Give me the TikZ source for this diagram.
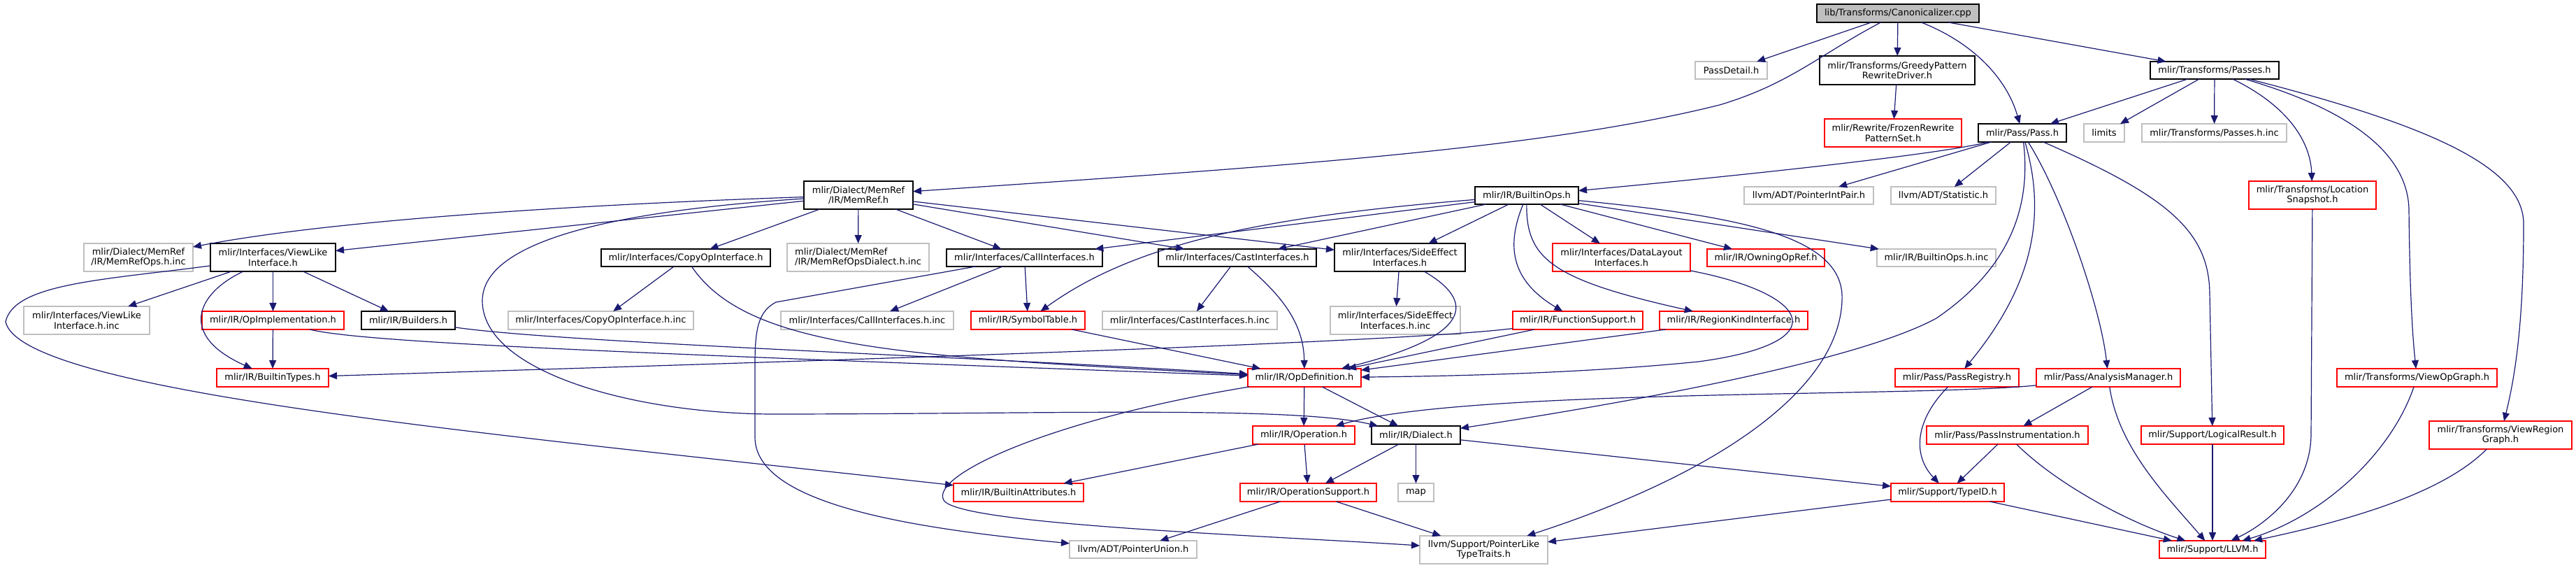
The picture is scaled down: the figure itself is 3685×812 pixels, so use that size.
\documentclass[tikz,border=0pt]{standalone}
\usepackage{fontspec}
\setmainfont{DejaVu Sans}
\usetikzlibrary{arrows.meta}
\definecolor{edgeblue}{HTML}{191970}
\definecolor{rootgray}{HTML}{BFBFBF}
\definecolor{grayline}{HTML}{BFBFBF}
\definecolor{redline}{HTML}{FF0000}
\tikzset{
  nb/.style={draw, rectangle, inner sep=0pt, outer sep=0pt, line width=0.55pt,
    font=\fontsize{6.5}{7.2}\selectfont, align=center, text=black},
  blk/.style={nb, draw=black},
  rd/.style={nb, draw=redline},
  gr/.style={nb, draw=grayline},
  root/.style={nb, draw=black, fill=rootgray},
  dep/.style={draw=edgeblue, line width=0.6pt, -{Triangle[length=6pt,width=5pt]}}
}
\newcommand{\nd}[7]{\node[#6, minimum width={(#4-#2)*0.5pt}, minimum height={(#5-#3)*0.5pt}] (#1) at ({(#2+#4)/2},{(#3+#5)/2}) {#7};}
\begin{document}
\begin{tikzpicture}[x=0.5pt,y=-0.5pt]
\useasboundingbox (0,0) rectangle (3685,812);
% nodes
\nd{canon}{2599}{6}{2831}{32}{root}{lib/Transforms/Canonicalizer.cpp}
\nd{passdetail}{2425}{88}{2528}{113}{gr}{PassDetail.h}
\nd{greedy}{2603}{80}{2825}{121}{blk}{mlir/Transforms/GreedyPattern\\RewriteDriver.h}
\nd{passes}{3076}{88}{3260}{113}{blk}{mlir/Transforms/Passes.h}
\nd{frozen}{2610}{170}{2806}{210}{rd}{mlir/Rewrite/FrozenRewrite\\PatternSet.h}
\nd{pass}{2830}{177}{2956}{203}{blk}{mlir/Pass/Pass.h}
\nd{limits}{2981}{177}{3039}{203}{gr}{limits}
\nd{passesinc}{3064}{177}{3271}{203}{gr}{mlir/Transforms/Passes.h.inc}
\nd{memref}{1150}{259}{1306}{299}{blk}{mlir/Dialect/MemRef\\/IR/MemRef.h}
\nd{builtinops}{2110}{267}{2258}{292}{blk}{mlir/IR/BuiltinOps.h}
\nd{ptrintpair}{2495}{267}{2680}{292}{gr}{llvm/ADT/PointerIntPair.h}
\nd{statistic}{2705}{267}{2855}{292}{gr}{llvm/ADT/Statistic.h}
\nd{locsnap}{3217}{259}{3399}{299}{rd}{mlir/Transforms/Location\\Snapshot.h}
\nd{memrefopsinc}{120}{348}{276}{388}{gr}{mlir/Dialect/MemRef\\/IR/MemRefOps.h.inc}
\nd{viewlike}{301}{348}{480}{388}{blk}{mlir/Interfaces/ViewLike\\Interface.h}
\nd{copyop}{860}{356}{1102}{381}{blk}{mlir/Interfaces/CopyOpInterface.h}
\nd{memrefdialectinc}{1126}{348}{1329}{388}{gr, align=left}{mlir/Dialect/MemRef\\/IR/MemRefOpsDialect.h.inc}
\nd{callif}{1354}{356}{1577}{381}{blk}{mlir/Interfaces/CallInterfaces.h}
\nd{castif}{1657}{356}{1883}{381}{blk}{mlir/Interfaces/CastInterfaces.h}
\nd{sideeffect}{1909}{348}{2096}{388}{blk}{mlir/Interfaces/SideEffect\\Interfaces.h}
\nd{datalayout}{2221}{348}{2418}{388}{rd}{mlir/Interfaces/DataLayout\\Interfaces.h}
\nd{owning}{2442}{356}{2610}{381}{rd}{mlir/IR/OwningOpRef.h}
\nd{builtinopsinc}{2685}{356}{2855}{381}{gr}{mlir/IR/BuiltinOps.h.inc}
\nd{viewlikeinc}{34}{438}{214}{478}{gr}{mlir/Interfaces/ViewLike\\Interface.h.inc}
\nd{opimpl}{289}{445}{492}{471}{rd}{mlir/IR/OpImplementation.h}
\nd{builders}{517}{445}{651}{471}{blk}{mlir/IR/Builders.h}
\nd{copyopinc}{727}{445}{992}{471}{gr}{mlir/Interfaces/CopyOpInterface.h.inc}
\nd{callifinc}{1117}{445}{1364}{471}{gr}{mlir/Interfaces/CallInterfaces.h.inc}
\nd{symtab}{1389}{445}{1552}{471}{rd}{mlir/IR/SymbolTable.h}
\nd{castifinc}{1577}{445}{1827}{471}{gr}{mlir/Interfaces/CastInterfaces.h.inc}
\nd{sideeffectinc}{1903}{438}{2089}{478}{gr}{mlir/Interfaces/SideEffect\\Interfaces.h.inc}
\nd{funcsupport}{2164}{445}{2350}{471}{rd}{mlir/IR/FunctionSupport.h}
\nd{regionkind}{2374}{445}{2586}{471}{rd}{mlir/IR/RegionKindInterface.h}
\nd{builtintypes}{310}{527}{470}{553}{rd}{mlir/IR/BuiltinTypes.h}
\nd{opdef}{1785}{527}{1947}{553}{rd}{mlir/IR/OpDefinition.h}
\nd{passregistry}{2711}{527}{2888}{553}{rd}{mlir/Pass/PassRegistry.h}
\nd{analysis}{2913}{527}{3119}{553}{rd}{mlir/Pass/AnalysisManager.h}
\nd{viewopgraph}{3343}{527}{3572}{553}{rd}{mlir/Transforms/ViewOpGraph.h}
\nd{operation}{1792}{609}{1938}{635}{rd}{mlir/IR/Operation.h}
\nd{dialect}{1962}{609}{2089}{635}{blk}{mlir/IR/Dialect.h}
\nd{passinstr}{2756}{609}{2987}{635}{rd}{mlir/Pass/PassInstrumentation.h}
\nd{logical}{3063}{609}{3267}{635}{rd}{mlir/Support/LogicalResult.h}
\nd{viewregion}{3475}{602}{3679}{642}{rd}{mlir/Transforms/ViewRegion\\Graph.h}
\nd{builtinattr}{1364}{691}{1550}{717}{rd}{mlir/IR/BuiltinAttributes.h}
\nd{opsupport}{1774}{691}{1969}{717}{rd}{mlir/IR/OperationSupport.h}
\nd{map}{2000}{691}{2051}{717}{gr}{map}
\nd{typeid}{2705}{691}{2867}{717}{rd}{mlir/Support/TypeID.h}
\nd{ptrunion}{1530}{773}{1712}{798}{gr}{llvm/ADT/PointerUnion.h}
\nd{ptrlike}{2031}{766}{2214}{806}{gr}{llvm/Support/PointerLike\\TypeTraits.h}
\nd{llvm}{3089}{773}{3241}{798}{rd}{mlir/Support/LLVM.h}
% edges from Canonicalizer
\draw[dep] (canon) -- (passdetail);
\draw[dep] (canon) -- (greedy);
\draw[dep] (canon) -- (passes);
\draw[dep] (canon) .. controls (2820,60) and (2870,110) .. (pass);
\draw[dep] (canon) .. controls (2600,80) and (2560,120) .. (2460,150) .. controls (2200,215) and (1800,240) .. (memref);
\draw[dep] (greedy) -- (frozen);
% Passes.h
\draw[dep] (passes) -- (pass);
\draw[dep] (passes) -- (limits);
\draw[dep] (passes) -- (passesinc);
\draw[dep] (passes) .. controls (3270,150) and (3305,200) .. (locsnap);
\draw[dep] (passes) .. controls (3390,165) and (3445,235) .. (3446,300) .. controls (3447,400) and (3450,470) .. (viewopgraph);
\draw[dep] (passes) .. controls (3480,180) and (3610,240) .. (3610,320) .. controls (3610,450) and (3600,530) .. (viewregion);
% Pass.h
\draw[dep] (pass) .. controls (2780,220) and (2500,250) .. (builtinops);
\draw[dep] (pass) -- (ptrintpair);
\draw[dep] (pass) -- (statistic);
\draw[dep] (pass) .. controls (2905,290) and (2880,380) .. (2770,455) .. controls (2650,520) and (2300,580) .. (dialect);
\draw[dep] (pass) .. controls (2925,300) and (2915,400) .. (passregistry);
\draw[dep] (pass) .. controls (2950,280) and (3005,440) .. (analysis);
\draw[dep] (pass) .. controls (3100,280) and (3160,330) .. (3161,420) -- (logical);
% leaves to LLVM.h
\draw[dep] (locsnap) -- (3306,620) .. controls (3306,700) and (3240,750) .. (llvm);
\draw[dep] (viewopgraph) .. controls (3420,650) and (3320,740) .. (llvm);
\draw[dep] (viewregion) .. controls (3500,700) and (3380,740) .. (llvm);
\draw[dep] (logical) -- (llvm);
\draw[dep] (analysis) .. controls (3030,640) and (3100,710) .. (llvm);
\draw[dep] (passinstr) .. controls (2940,690) and (3040,745) .. (llvm);
\draw[dep] (typeid) -- (llvm);
\draw[dep] (typeid) -- (ptrlike);
\draw[dep] (analysis) -- (passinstr);
\draw[dep] (analysis) .. controls (2750,568) and (2100,555) .. (operation);
\draw[dep] (passregistry) .. controls (2740,600) and (2735,650) .. (typeid);
\draw[dep] (passinstr) -- (typeid);
% Dialect / Operation
\draw[dep] (dialect) -- (typeid);
\draw[dep] (dialect) -- (map);
\draw[dep] (dialect) -- (opsupport);
\draw[dep] (opdef) -- (operation);
\draw[dep] (opdef) -- (dialect);
\draw[dep] (operation) -- (opsupport);
\draw[dep] (operation) -- (builtinattr);
\draw[dep] (opsupport) -- (ptrunion);
\draw[dep] (opsupport) -- (ptrlike);
\draw[dep] (opdef) .. controls (1500,600) and (1330,680) .. (1350,715) .. controls (1370,750) and (1800,765) .. (ptrlike);
% BuiltinOps.h
\draw[dep] (builtinops) .. controls (2500,310) and (2640,340) .. (2635,430) .. controls (2630,560) and (2450,680) .. (ptrlike);
\draw[dep] (builtinops) -- (builtinopsinc);
\draw[dep] (builtinops) -- (owning);
\draw[dep] (builtinops) -- (datalayout);
\draw[dep] (builtinops) -- (sideeffect);
\draw[dep] (builtinops) -- (castif);
\draw[dep] (builtinops) -- (callif);
\draw[dep] (builtinops) .. controls (1800,310) and (1620,350) .. (symtab);
\draw[dep] (builtinops) .. controls (2155,350) and (2160,400) .. (funcsupport);
\draw[dep] (builtinops) .. controls (2183,370) and (2220,400) .. (regionkind);
% MemRef.h
\draw[dep] (memref) .. controls (900,290) and (500,310) .. (memrefopsinc);
\draw[dep] (memref) -- (viewlike);
\draw[dep] (memref) .. controls (900,300) and (690,340) .. (690,430) .. controls (690,530) and (900,590) .. (1100,592) .. controls (1500,592) and (1850,580) .. (dialect);
\draw[dep] (memref) -- (copyop);
\draw[dep] (memref) -- (memrefdialectinc);
\draw[dep] (memref) -- (callif);
\draw[dep] (memref) -- (castif);
\draw[dep] (memref) -- (sideeffect);
% ViewLikeInterface.h
\draw[dep] (viewlike) -- (viewlikeinc);
\draw[dep] (viewlike) .. controls (280,420) and (255,480) .. (builtintypes);
\draw[dep] (viewlike) -- (opimpl);
\draw[dep] (viewlike) -- (builders);
\draw[dep] (viewlike) .. controls (150,400) and (20,405) .. (8,460) .. controls (30,560) and (700,620) .. (builtinattr);
% interfaces
\draw[dep] (opimpl) -- (builtintypes);
\draw[dep] (opimpl) .. controls (520,490) and (900,505) .. (opdef);
\draw[dep] (builders) .. controls (800,490) and (1400,510) .. (opdef);
\draw[dep] (copyop) -- (copyopinc);
\draw[dep] (copyop) .. controls (1070,500) and (1300,510) .. (opdef);
\draw[dep] (callif) -- (callifinc);
\draw[dep] (callif) -- (symtab);
\draw[dep] (callif) -- (1110,432) .. controls (1085,445) and (1080,470) .. (1080,520) -- (1080,625) .. controls (1080,720) and (1300,755) .. (ptrunion);
\draw[dep] (castif) -- (castifinc);
\draw[dep] (castif) .. controls (1830,420) and (1865,460) .. (opdef);
\draw[dep] (symtab) -- (opdef);
\draw[dep] (funcsupport) -- (opdef);
\draw[dep] (funcsupport) .. controls (2000,490) and (1200,515) .. (builtintypes);
\draw[dep] (regionkind) -- (opdef);
\draw[dep] (sideeffect) -- (sideeffectinc);
\draw[dep] (sideeffect) .. controls (2110,430) and (2110,480) .. (opdef);
\draw[dep] (datalayout) .. controls (2590,420) and (2630,490) .. (2430,517) .. controls (2250,535) and (2050,538) .. (opdef);
\end{tikzpicture}
\end{document}
